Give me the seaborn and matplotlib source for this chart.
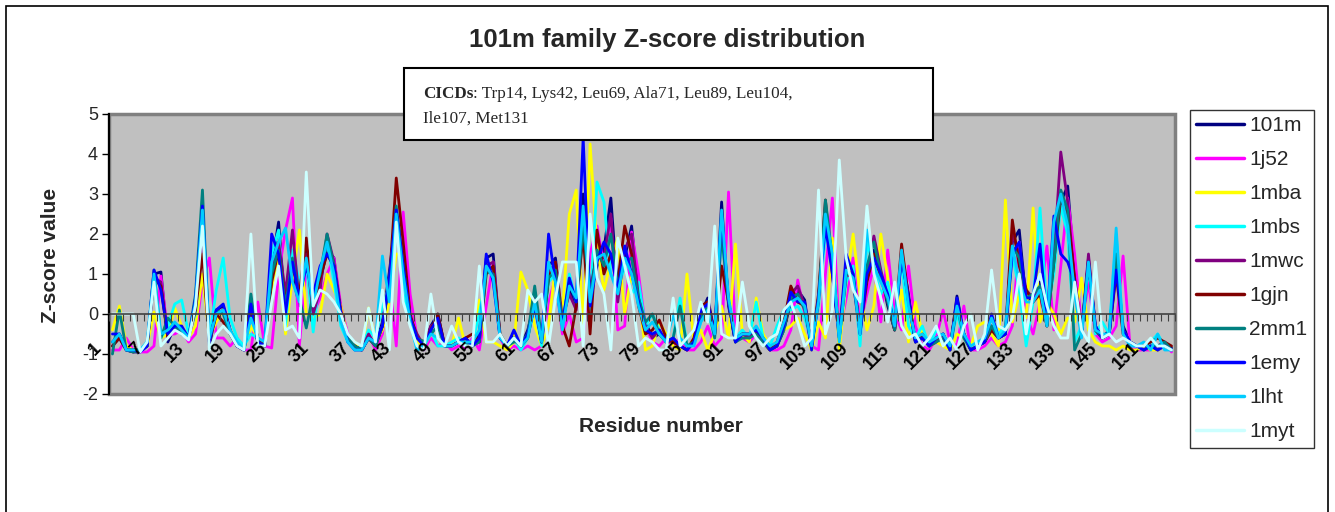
import numpy as np
import pandas as pd
import matplotlib
matplotlib.use("Agg")
import matplotlib.pyplot as plt
import matplotlib.transforms as mtransforms
from matplotlib.patches import Rectangle
from matplotlib.lines import Line2D
import seaborn as sns

# ---------------- data ----------------
series_names = ["101m", "1j52", "1mba", "1mbs", "1mwc", "1gjn", "2mm1", "1emy", "1lht", "1myt"]
series_colors = ["#000080", "#FF00FF", "#FFFF00", "#00FFFF", "#800080",
                 "#800000", "#008080", "#0000FF", "#00CCFF", "#CCFFFF"]
residues = list(range(1, 155))
tick_labels = list(range(1, 155, 6))
note_bold = "CICDs"
note_rest = ": Trp14, Lys42, Leu69, Ala71, Leu89, Leu104,"
note_line2 = "Ile107, Met131"

z_101m = [-0.7, -0.5, -0.9, -0.95, -0.95, -0.8, 1.0, 1.05, -0.7, -0.3,
          -0.4, -0.6, 0.2, 2.4, -0.8, 0.1, 0.2, -0.4, -0.8, -0.9,
          0.0, -0.7, -0.8, 1.2, 2.3, 0.0, 1.0, 0.2, 1.7, 0.3,
          0.8, 1.6, 1.4, 0.0, -0.6, -0.8, -0.9, -0.6, -0.8, -0.2,
          1.05, 2.5, 1.6, -0.2, -0.6, -0.8, -0.3, 0.0, -0.8, -0.8,
          -0.7, -0.6, -0.8, -0.5, 1.4, 1.5, -0.6, -0.8, -0.5, -0.8,
          -0.4, 0.3, -0.7, 1.2, 1.4, -0.2, 0.6, 0.2, 3.0, 0.5,
          1.2, 1.6, 2.9, 0.5, 1.4, 2.2, 0.5, -0.2, -0.6, -0.5,
          -0.7, -0.6, -0.8, -0.9, -0.7, 0.0, 0.4, -0.5, 2.8, 0.2,
          -0.7, -0.5, -0.6, -0.4, -0.7, -0.9, -0.8, -0.4, 0.3, 0.6,
          0.35, -0.9, 0.4, 2.6, 1.3, -0.7, 1.2, 0.8, -0.5, 1.2,
          1.6, 1.0, 0.2, -0.4, 1.5, 0.5, -0.7, -0.6, -0.8, -0.7,
          -0.5, -0.9, 0.45, -0.5, -0.9, -0.8, -0.7, -0.3, -0.6, -0.5,
          1.8, 2.1, 0.3, 0.5, 0.8, -0.3, 1.5, 2.8, 3.2, 1.0,
          -0.5, 1.4, -0.3, -0.6, -0.4, 1.3, -0.3, -0.7, -0.8, -0.9,
          -0.8, -0.9, -0.8, -0.85]

z_1j52 = [-0.9, -0.9, -0.6, -0.9, -0.95, -0.95, -0.8, 0.95, -0.5, -0.5,
          -0.4, -0.7, -0.5, 0.8, 1.4, -0.6, -0.6, -0.8, -0.6, -0.9,
          -0.9, 0.3, -0.8, -0.85, 1.0, 2.1, 2.9, -0.8, 1.2, 0.0,
          0.4, 1.0, 1.4, 0.2, -0.5, -0.8, -0.9, -0.5, -0.9, -0.5,
          0.9, -0.8, 2.55, 0.5, -0.6, -0.9, -0.6, -0.8, -0.7, -0.9,
          -0.8, -0.85, -0.6, -0.9, 0.2, 1.3, -0.6, -0.9, -0.8, -0.9,
          -0.8, -0.9, -0.8, 0.3, 0.9, -0.5, 0.0, -0.7, -0.6, 1.5,
          2.2, 1.2, 2.4, -0.4, -0.3, 2.05, 1.0, -0.3, -0.7, -0.8,
          -0.6, -0.8, -0.6, -0.9, -0.9, -0.7, -0.3, -0.8, -0.6, 3.05,
          -0.5, -0.6, -0.7, -0.5, -0.7, -0.9, -0.9, -0.8, -0.4, 0.85,
          0.0, -0.8, -0.9, 1.0, 2.9, -0.5, 0.4, 1.4, -0.3, 0.5,
          1.2, -0.2, 1.6, 0.0, -0.4, 1.2, -0.3, -0.8, -0.9, -0.6,
          0.1, -0.7, -0.8, 0.2, -0.9, -0.9, -0.8, -0.6, -0.8, -0.7,
          -0.3, 1.8, 0.0, -0.5, 0.3, 1.7, -0.4, 1.2, 2.9, 1.5,
          -0.3, 0.8, -0.5, -0.7, -0.6, -0.3, 1.45, -0.8, -0.9, -0.9,
          -0.9, -0.8, -0.7, -0.95]

z_1mba = [-0.4, 0.2, -0.8, -0.9, -0.9, -0.8, 0.05, -0.6, -0.5, 0.15,
          -0.3, -0.6, -0.3, 1.0, -0.6, -0.2, 0.1, -0.4, -0.7, -0.9,
          -0.3, -0.6, -0.8, 0.5, 1.3, -0.5, 0.9, 2.1, 0.0, -0.1,
          0.0, 1.0, 0.6, 0.2, -0.6, -0.7, -0.9, 0.15, -0.7, -0.4,
          0.3, 1.5, 1.5, -0.2, -0.7, -0.8, -0.5, -0.6, -0.8, -0.8,
          -0.1, -0.8, -0.8, 0.35, -0.7, -0.7, -0.8, -0.9, -0.7, 1.05,
          0.6, -0.3, -0.8, -0.3, 1.2, 0.0, 2.5, 3.1, -0.5, 4.25,
          1.7, 0.6, 1.3, 1.9, 0.0, 1.0, 0.5, -0.9, -0.8, -0.2,
          -0.5, -0.8, -0.9, 1.0, -0.7, -0.4, -0.9, -0.5, 0.2, -0.6,
          1.75, -0.5, -0.7, 0.4, -0.5, -0.8, -0.7, -0.4, -0.3, -0.1,
          -0.5, -0.9, -0.2, -0.6, 1.9, -0.9, 0.8, 2.0, 0.5, -0.4,
          0.2, 2.0, 0.9, -0.3, 0.6, -0.7, 0.3, -0.5, -0.8, -0.7,
          -0.8, -0.9, -0.5, -0.6, -0.8, -0.3, -0.2, -0.5, -0.8, 2.85,
          -0.2, 0.5, -0.1, 2.65, -0.2, 0.3, 0.0, -0.5, -0.1, -0.2,
          0.9, -0.4, -0.7, -0.8, -0.8, -0.9, -0.8, -0.9, -0.9, -0.8,
          -0.9, -0.9, -0.8, -0.9]

z_1mbs = [-0.8, -0.6, -0.9, -0.9, -0.9, -0.7, 0.8, -0.6, -0.3, 0.25,
          0.35, -0.5, 0.0, 1.8, -0.6, 0.6, 1.4, -0.1, -0.6, -0.8,
          -0.5, -0.6, -0.7, 1.5, 2.1, -0.3, 1.6, 0.8, 1.3, -0.45,
          1.0, 1.8, 0.8, -0.3, -0.7, -0.9, -0.8, -0.4, -0.6, 0.2,
          0.7, 2.4, 0.5, -0.2, -0.9, -0.7, -0.4, -0.8, -0.8, -0.7,
          -0.6, -0.8, -0.7, 0.0, 1.0, 1.1, -0.5, -0.8, -0.6, -0.9,
          -0.6, 0.2, -0.8, 0.8, 1.0, -0.3, 1.0, 0.3, 2.0, 0.1,
          3.3, 2.8, 1.0, 0.6, 1.2, 0.5, 0.8, -0.3, 0.0, -0.4,
          -0.7, -0.6, 0.4, -0.8, -0.7, -0.2, 0.1, -0.6, 2.0, 0.4,
          -0.6, -0.4, -0.6, 0.3, -0.6, -0.8, -0.3, 0.1, 0.1, 0.2,
          -0.1, -0.7, 0.2, 2.0, 1.5, -0.6, 0.8, 1.2, -0.8, 1.8,
          1.1, 0.5, 0.8, -0.2, 1.3, -0.3, -0.6, -0.3, -0.8, -0.4,
          -0.6, -0.8, 0.0, -0.6, -0.8, -0.7, -0.6, -0.1, -0.5, -0.3,
          1.5, 0.6, -0.8, 0.3, 2.65, 0.0, 1.0, 2.7, 2.0, -0.7,
          -0.3, 1.2, -0.5, -0.2, -0.5, 2.0, -0.4, -0.8, -0.8, -0.9,
          -0.7, -0.5, -0.8, -0.9]

z_1mwc = [-0.8, -0.6, -0.9, -0.95, -0.9, -0.8, 0.9, 0.8, -0.6, -0.3,
          -0.4, -0.6, 0.3, 1.8, -0.7, 0.0, 0.1, -0.5, -0.8, -0.9,
          0.1, -0.6, -0.8, 0.9, 1.8, 0.5, 2.1, 0.3, 1.5, 0.0,
          0.6, 2.0, 1.3, 0.1, -0.6, -0.8, -0.9, -0.5, -0.8, -0.3,
          0.9, 2.3, 1.5, -0.1, -0.5, -0.8, -0.3, -0.2, -0.8, -0.8,
          -0.7, -0.7, -0.8, -0.6, 1.2, 1.3, -0.6, -0.8, -0.6, -0.8,
          -0.5, 0.4, -0.7, 1.0, 1.3, -0.1, 0.5, 0.1, 2.5, 0.6,
          1.5, 1.4, 2.5, 0.3, 1.6, 2.0, 0.4, -0.3, -0.6, -0.4,
          -0.7, -0.7, -0.8, -0.9, -0.7, 0.1, 0.3, -0.5, 2.3, 0.3,
          -0.6, -0.5, -0.6, -0.4, -0.7, -0.9, -0.8, -0.3, 0.5, 0.7,
          0.2, -0.8, 0.3, 2.7, 1.2, -0.6, 1.0, 0.9, -0.4, 1.0,
          1.95, 1.1, 0.4, -0.4, 1.6, 0.3, -0.7, -0.6, -0.8, -0.7,
          -0.5, -0.9, 0.3, -0.5, -0.9, -0.8, -0.7, -0.4, -0.6, -0.5,
          2.0, 1.5, 0.6, 0.4, 0.6, -0.2, 1.4, 4.05, 2.8, 0.8,
          -0.5, 1.5, -0.4, -0.6, -0.5, 1.2, -0.4, -0.7, -0.8, -0.9,
          -0.8, -0.9, -0.7, -0.9]

z_1gjn = [-0.8, -0.6, -0.9, -0.9, -0.9, -0.8, 0.9, 0.7, -0.6, -0.3,
          -0.4, -0.6, 0.1, 1.5, -0.7, 0.0, -0.2, -0.5, -0.8, -0.9,
          0.1, -0.6, -0.8, 0.8, 1.6, 0.3, 1.2, 0.5, 1.9, 0.2,
          0.9, 1.5, 1.2, 0.0, -0.6, -0.8, -0.9, -0.6, -0.8, -0.3,
          0.8, 3.4, 1.8, 0.0, -0.6, -0.7, -0.4, 0.0, -0.8, -0.8,
          -0.7, -0.6, -0.5, -0.7, 1.0, 1.2, -0.5, -0.8, -0.6, -0.8,
          -0.6, 0.3, -0.7, 0.9, 1.3, -0.3, -0.8, 0.2, 2.0, -0.5,
          2.1, 1.0, 1.5, 0.8, 2.2, 1.5, 0.2, -0.5, -0.4, -0.15,
          -0.6, -0.7, -0.8, -0.9, -0.6, 0.2, 0.3, -0.5, 1.2, 0.3,
          -0.7, -0.5, -0.5, -0.4, -0.7, -0.9, -0.7, -0.2, 0.7, 0.3,
          0.2, -0.8, 0.5, 2.85, 1.0, -0.5, 1.2, 0.9, -0.4, 0.8,
          1.5, 0.9, 0.3, -0.4, 1.75, 0.4, -0.7, -0.5, -0.8, -0.6,
          -0.6, -0.8, 0.3, -0.5, -0.9, -0.8, -0.7, -0.4, -0.6, -0.5,
          2.35, 1.2, 0.6, 0.3, 0.5, -0.3, 1.3, 2.9, 2.5, 0.9,
          -0.4, 1.3, -0.4, -0.6, -0.5, 1.0, -0.5, -0.7, -0.8, -0.8,
          -0.7, -0.6, -0.7, -0.8]

z_2mm1 = [-1.0, 0.1, -0.9, -0.95, -0.9, -0.8, 1.1, -0.6, -0.1, -0.3,
          -0.5, -0.6, 0.5, 3.1, -0.7, 0.1, 0.0, -0.5, -0.8, -0.9,
          0.5, -0.7, -0.8, 1.0, 1.6, 0.2, 1.4, 0.4, -0.35, 0.5,
          1.0, 2.0, 1.2, -0.05, -0.6, -0.8, -0.9, -0.6, -0.8, -0.3,
          0.8, 2.7, 1.2, -0.1, -0.6, -0.7, -0.5, -0.3, -0.8, -0.8,
          -0.7, -0.7, -0.8, -0.7, 1.1, 1.0, -0.6, -0.8, -0.7, -0.7,
          -0.5, 0.7, -0.6, 0.9, 1.1, -0.2, 0.8, 0.3, 2.2, 0.4,
          1.6, 1.2, 2.0, 0.7, 1.3, 1.4, 0.4, -0.2, 0.0, -0.5,
          -0.7, -0.6, 0.2, -0.8, -0.7, -0.1, 0.2, -0.6, 2.0, 0.3,
          -0.7, -0.6, -0.6, -0.5, -0.7, -0.9, -0.8, -0.4, 0.4, 0.5,
          0.1, -0.8, 0.4, 2.85, 1.4, -0.6, 1.0, 1.0, -0.5, 1.2,
          1.8, 1.0, 0.3, -0.4, 1.5, 0.3, -0.7, -0.6, -0.8, -0.7,
          -0.6, -0.9, 0.2, -0.6, -0.9, -0.8, -0.7, -0.3, -0.6, -0.5,
          1.7, 1.4, 0.4, 0.5, 0.7, -0.3, 1.3, 3.1, 2.6, -0.9,
          -0.5, 1.3, -0.4, -0.6, -0.5, 1.5, -0.4, -0.7, -0.8, -0.9,
          -0.8, -0.8, -0.7, -0.9]

z_1emy = [-0.5, -0.5, -0.9, -0.9, -0.95, -0.8, 1.1, 0.6, -0.5, -0.3,
          -0.3, -0.6, 0.4, 2.7, -0.7, 0.1, 0.25, -0.4, -0.8, -0.9,
          0.25, -0.7, -0.8, 2.0, 1.5, 0.0, 1.3, 0.4, 1.2, 0.5,
          1.2, 1.5, 1.2, 0.0, -0.7, -0.9, -0.9, -0.6, -0.7, -0.3,
          0.9, 2.6, 1.2, -0.1, -0.6, -0.8, -0.4, -0.1, -0.8, -0.8,
          -0.7, -0.6, -0.8, -0.6, 1.5, 0.8, -0.6, -0.8, -0.4, -0.8,
          -0.5, 0.2, -0.7, 2.0, 0.8, -0.3, 0.9, 0.3, 4.4, 0.2,
          1.3, 1.8, 1.5, 0.6, 1.7, 1.0, 0.3, -0.4, -0.5, -0.4,
          -0.7, -0.6, -0.8, -0.9, -0.7, 0.1, 0.25, -0.5, 2.5, 0.3,
          -0.7, -0.5, -0.5, -0.4, -0.6, -0.9, -0.8, -0.3, 0.55, 0.3,
          0.3, -0.9, 0.4, 2.2, 1.0, -0.6, 1.5, 1.0, -0.5, 1.0,
          1.4, 1.0, 0.5, -0.3, 1.4, 0.4, -0.7, -0.6, -0.8, -0.6,
          -0.5, -0.9, 0.4, -0.5, -0.9, -0.8, -0.7, 0.0, -0.6, -0.5,
          1.5, 1.8, 0.4, 0.4, 1.75, -0.2, 2.45, 1.5, 1.3, 0.8,
          -0.5, 1.3, -0.3, -0.6, -0.5, 1.1, -0.4, -0.7, -0.8, -0.9,
          -0.8, -0.9, -0.8, -0.9]

z_1lht = [-0.7, -0.5, -0.9, -0.9, -0.9, -0.7, 1.0, -0.5, -0.4, -0.2,
          -0.4, -0.6, 0.3, 2.6, -0.6, 0.0, 0.1, -0.4, -0.7, -0.9,
          -0.1, -0.6, -0.7, 1.3, 1.8, 2.15, 0.8, 0.3, 1.4, 0.2,
          1.1, 1.8, 1.0, -0.2, -0.7, -0.9, -0.9, -0.6, -0.7, 1.45,
          0.3, 2.5, 1.0, -0.2, -0.9, -0.8, -0.5, -0.6, -0.8, -0.8,
          -0.7, -0.7, -0.7, -0.4, 1.2, 0.9, -0.6, -0.8, -0.6, -0.8,
          -0.6, 0.3, -0.7, 1.3, 0.8, -0.4, 0.7, 0.4, 2.7, 0.3,
          1.4, 1.5, 1.0, 0.5, 1.4, 1.0, 0.2, -0.4, -0.2, -0.5,
          -0.7, 0.0, -0.6, -0.8, -0.8, -0.2, 0.1, -0.5, 2.6, 0.4,
          -0.6, -0.5, -0.5, -0.3, -0.6, -0.8, -0.7, -0.2, 0.3, 0.4,
          0.2, -0.8, 0.3, 2.5, 1.5, -0.7, 1.1, 0.9, -0.5, 2.1,
          1.2, 0.8, 0.4, -0.3, 1.6, 0.2, -0.6, -0.5, -0.7, -0.6,
          -0.5, -0.8, 0.2, -0.5, -0.8, -0.7, -0.6, -0.1, -0.6, -0.4,
          1.7, 0.8, 0.3, 0.3, 0.6, -0.3, 2.3, 3.0, 2.2, 0.5,
          -0.6, 1.3, -0.4, -0.5, -0.5, 2.15, -0.5, -0.8, -0.8, -0.7,
          -0.9, -0.5, -0.9, -0.9]

z_1myt = [0.0, 0.0, 0.0, 0.0, -0.95, -0.7, 0.8, -0.8, -0.6, -0.4,
          -0.5, -0.65, 0.2, 2.2, -0.9, -0.5, -0.3, -0.5, -0.8, -0.9,
          2.0, -0.8, -0.8, 0.3, 1.2, -0.4, -0.3, -0.6, 3.55, 0.2,
          0.6, 0.5, 0.3, 0.0, -0.5, -0.7, -0.8, 0.15, -0.7, 0.6,
          -0.9, 2.3, 0.3, -0.3, -0.8, -0.9, 0.5, -0.6, -0.8, -0.3,
          -0.7, -0.8, -0.8, 1.2, -0.7, -0.7, -0.5, -0.8, -0.6, -0.8,
          0.6, 0.3, 0.5, -0.8, 0.4, 1.3, 1.3, 1.3, -0.8, 2.5,
          0.9, 0.5, -0.9, 1.9, 1.2, 0.5, -0.8, -0.6, -0.7, -0.9,
          -0.9, 0.4, -0.8, -0.6, -0.4, 0.3, -0.2, 2.2, -0.5, -0.6,
          -0.6, 0.8, -0.3, -0.6, -0.8, -0.6, -0.5, 0.1, 0.3, -0.2,
          -0.8, -0.6, 3.1, -0.5, 0.1, 3.85, 1.4, 0.6, 0.3, 2.7,
          1.0, 0.4, -0.2, 0.8, -0.3, -0.6, -0.5, -0.8, -0.6, -0.3,
          -0.8, -0.6, -0.9, -0.3, 0.0, -0.9, -0.5, 1.1, -0.3, -0.4,
          -0.1, 1.0, -0.5, 0.5, 1.0, 0.2, -0.3, -0.6, -0.6, 0.8,
          -0.4, -0.7, 1.3, -0.6, -0.5, -0.7, -0.6, -0.7, -0.8, -0.8,
          -0.6, -0.8, -0.8, -0.9]

all_series = [z_101m, z_1j52, z_1mba, z_1mbs, z_1mwc, z_1gjn, z_2mm1, z_1emy, z_1lht, z_1myt]

# ---------------- figure ----------------
sns.set_style("white")
plt.rcParams["font.family"] = ["Liberation Sans", "DejaVu Sans"]

W, H = 1335, 512
fig = plt.figure(figsize=(W / 100, H / 100), dpi=100)
fig.patch.set_facecolor("white")

# outer chart border
fig.patches.append(Rectangle((6 / W, -0.02), (1328 - 6) / W, 1 - 6 / H + 0.02,
                             transform=fig.transFigure, fill=False,
                             edgecolor="black", linewidth=1.2, zorder=0))

L, R, T, B = 109, 1175, 114, 394
ax = fig.add_axes([L / W, 1 - B / H, (R - L) / W, (B - T) / H])
ax.set_facecolor("#C0C0C0")
ax.set_axisbelow(False)

rows = []
for name, vals in zip(series_names, all_series):
    for r, v in zip(residues, vals):
        rows.append((name, r, v))
df = pd.DataFrame(rows, columns=["series", "residue", "z"])

sns.lineplot(data=df, x="residue", y="z", hue="series", hue_order=series_names,
             palette=dict(zip(series_names, series_colors)), linewidth=2.0,
             estimator=None, sort=False, legend=False, ax=ax)

ax.set_xlim(0.5, len(residues) + 0.5)
ax.set_ylim(-2, 5)
ax.set_xlabel("")
ax.set_ylabel("")

# spines
for s in ["top", "right"]:
    ax.spines[s].set_visible(False)
ax.spines["left"].set_color("black")
ax.spines["left"].set_linewidth(1.5)
ax.spines["bottom"].set_position(("data", 0))
ax.spines["bottom"].set_color("#404040")
ax.spines["bottom"].set_linewidth(1.2)
ax.add_patch(Rectangle((0, 0), 1, 1, transform=ax.transAxes, fill=False,
                       edgecolor="#808080", linewidth=2.5, zorder=0.5, clip_on=False))

# y ticks
ax.set_yticks(range(-2, 6))
ax.set_yticklabels([str(v) for v in range(-2, 6)], fontsize=13)
ax.tick_params(axis="y", direction="out", length=5, width=1, color="black", pad=3, left=True)

# x ticks
ax.set_xticks(tick_labels)
ax.set_xticklabels([str(t) for t in tick_labels], fontsize=13, fontweight="bold",
                   rotation=45, ha="right", va="top", rotation_mode="anchor")
ax.set_xticks(np.arange(0.5, len(residues) + 1, 1), minor=True)
ax.tick_params(axis="x", which="major", length=0, pad=0, bottom=True)
ax.tick_params(axis="x", which="minor", direction="out", length=5, width=0.8,
               color="#404040", bottom=True)
offset = mtransforms.ScaledTranslation(-0.20, -0.26, fig.dpi_scale_trans)
for lbl in ax.get_xticklabels():
    lbl.set_transform(lbl.get_transform() + offset)
    lbl.set_color("black")

# titles and axis labels
fig.text(0.5, 1 - 40 / H, "101m family Z-score distribution", ha="center", va="center",
         fontsize=18.5, fontweight="bold")
fig.text(661 / W, 1 - 426 / H, "Residue number", ha="center", va="center",
         fontsize=15, fontweight="bold")
fig.text(50 / W, 1 - 255 / H, "Z-score value", ha="center", va="center",
         rotation=90, fontsize=15, fontweight="bold")

# annotation box
fig.patches.append(Rectangle((404 / W, 1 - 140 / H), (933 - 404) / W, (140 - 68) / H,
                             transform=fig.transFigure, facecolor="white",
                             edgecolor="black", linewidth=1.5, zorder=5))
serif = ["Liberation Serif", "DejaVu Serif"]
t1 = fig.text(423 / W, 1 - 98 / H, note_bold, ha="left", va="baseline",
              fontsize=12.3, fontweight="bold", family=serif, zorder=6)
fig.canvas.draw()
bb = t1.get_window_extent()
fig.text(bb.x1 / W, 1 - 98 / H, note_rest, ha="left", va="baseline",
         fontsize=12.3, family=serif, zorder=6)
fig.text(423 / W, 1 - 123 / H, note_line2, ha="left", va="baseline",
         fontsize=12.3, family=serif, zorder=6)

# legend
handles = [Line2D([0], [0], color=c, linewidth=2.5) for c in series_colors]
leg = fig.legend(handles, series_names, loc="upper left",
                 bbox_to_anchor=(1190 / W, 1 - 110 / H), bbox_transform=fig.transFigure,
                 fontsize=15, frameon=True, fancybox=False, edgecolor="black",
                 handlelength=2.3, handletextpad=0.25, labelspacing=0.72,
                 borderpad=0.3, borderaxespad=0)
leg.get_frame().set_linewidth(1.0)

fig.savefig("out.png", dpi=100, facecolor="white")
